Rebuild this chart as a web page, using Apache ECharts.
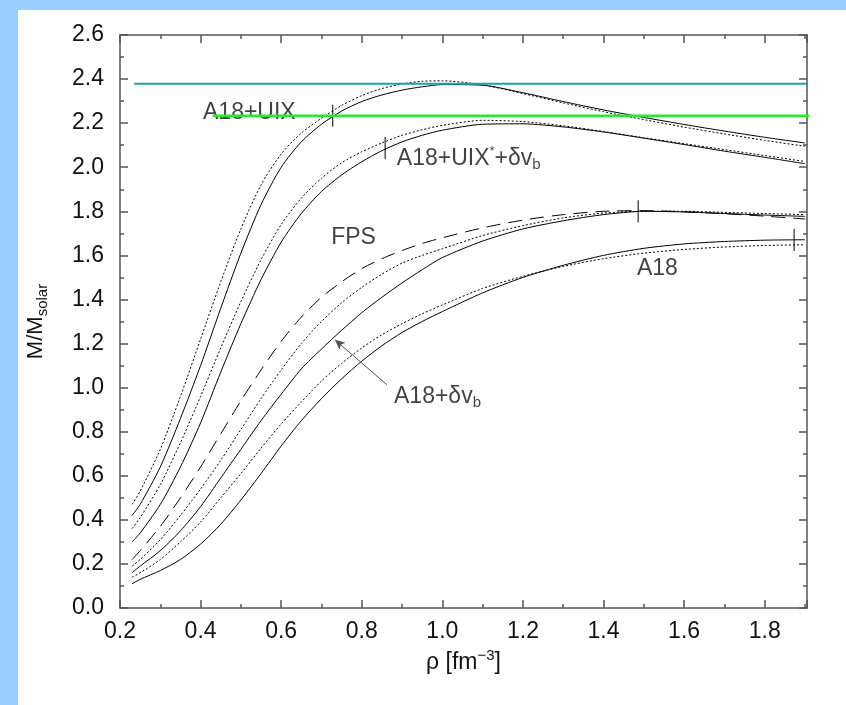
<!DOCTYPE html>
<html><head><meta charset="utf-8">
<script src="https://cdn.jsdelivr.net/npm/echarts@6/dist/echarts.min.js"></script>
<style>html,body{margin:0;padding:0;background:#fff}#c{width:846px;height:705px}</style>
</head><body><div id="c"></div>
<script>
// ---- data (rho in fm^-3, M in solar masses), all curves sampled on the same rho grid ----
const rho = [0.23,0.25,0.3,0.35,0.4,0.45,0.5,0.55,0.6,0.65,0.7,0.75,0.8,0.85,0.9,0.95,1.0,1.1,1.2,1.3,1.4,1.5,1.6,1.7,1.8,1.9];
const uixSolid  = [0.42,0.47,0.64,0.86,1.10,1.36,1.61,1.83,2.00,2.115,2.195,2.255,2.298,2.328,2.35,2.365,2.375,2.372,2.338,2.298,2.26,2.226,2.194,2.164,2.136,2.11];
const uixDot    = [0.47,0.53,0.72,0.96,1.22,1.48,1.72,1.92,2.06,2.155,2.222,2.28,2.325,2.357,2.378,2.39,2.392,2.374,2.334,2.292,2.252,2.216,2.182,2.151,2.122,2.095];
const uixsSolid = [0.30,0.34,0.47,0.64,0.84,1.07,1.29,1.49,1.66,1.79,1.89,1.965,2.025,2.075,2.115,2.145,2.168,2.195,2.197,2.183,2.16,2.132,2.103,2.073,2.045,2.016];
const uixsDot   = [0.36,0.41,0.56,0.75,0.96,1.18,1.39,1.58,1.74,1.86,1.95,2.02,2.07,2.11,2.145,2.17,2.19,2.213,2.207,2.188,2.162,2.134,2.107,2.08,2.053,2.026];
const fps       = [0.22,0.26,0.37,0.50,0.64,0.79,0.94,1.08,1.21,1.32,1.41,1.48,1.54,1.585,1.622,1.654,1.68,1.725,1.76,1.785,1.80,1.803,1.798,1.789,1.778,1.765];
const dvbDot    = [0.19,0.22,0.31,0.42,0.54,0.67,0.81,0.95,1.08,1.20,1.30,1.385,1.455,1.515,1.565,1.60,1.63,1.69,1.735,1.77,1.792,1.80,1.80,1.795,1.79,1.785];
const dvbSolid  = [0.16,0.19,0.26,0.35,0.46,0.59,0.72,0.85,0.97,1.085,1.175,1.26,1.34,1.41,1.475,1.535,1.59,1.665,1.72,1.757,1.785,1.80,1.797,1.79,1.783,1.777];
const a18Dot    = [0.14,0.16,0.22,0.30,0.39,0.50,0.61,0.725,0.835,0.935,1.03,1.11,1.18,1.24,1.29,1.335,1.375,1.45,1.505,1.55,1.585,1.61,1.627,1.638,1.645,1.648];
const a18Solid  = [0.11,0.13,0.17,0.22,0.29,0.38,0.49,0.61,0.735,0.85,0.95,1.04,1.12,1.19,1.25,1.30,1.345,1.43,1.50,1.555,1.60,1.632,1.652,1.663,1.669,1.671];

// horizontal reference lines
const hLineStartRho = [0.235, 0.43];
const hLineEndRho = [2.0, 2.0];
const hLineM = [2.379, 2.234];
// short vertical markers on curves
const markRho = [0.728, 0.858, 1.486, 1.873];
const markM = [2.234, 2.087, 1.80, 1.67];
const markHalf = 0.05;
// annotation labels (anchor in data coords: left edge, vertical middle)
const noteText = ['A18+UIX', 'A18+UIX{sup|*}+δv{sub|b}', 'FPS', 'A18', 'A18+δv{sub|b}'];
const noteRho = [0.406, 0.887, 0.724, 1.483, 0.88];
const noteM = [2.247, 2.04, 1.68, 1.54, 0.959];
// arrow from label to curve
const arrowFrom = [0.8625, 1.013];
const arrowTo = [0.7335, 1.217];
// axes
const xTicks = [0.2, 1.905, 0.2];   // min, max, interval
const yTicks = [0.0, 2.6, 0.2];

const FONT = '"Liberation Sans", Arial, Helvetica, sans-serif';
const zip = (r, m) => r.map((v, i) => [v, m[i]]);

function curve(m, type) {
  return {
    type: 'line', data: zip(rho, m), symbol: 'none', smooth: 0.25,
    lineStyle: { color: '#000', width: 1, type: type }, silent: true, z: 3
  };
}

const series = [
  curve(uixDot, [2, 2]),
  curve(uixSolid, 'solid'),
  curve(uixsDot, [2, 2]),
  curve(uixsSolid, 'solid'),
  curve(fps, [14, 8]),
  curve(dvbDot, [2, 2]),
  curve(dvbSolid, 'solid'),
  curve(a18Dot, [2, 2]),
  curve(a18Solid, 'solid')
];

const hColors = ['#1aa3aa', '#22ee22'];
const hWidths = [2, 2.5];
hLineM.forEach((m, i) => series.push({
  type: 'line', data: [[hLineStartRho[i], m], [hLineEndRho[i], m]], symbol: 'none', clip: false,
  lineStyle: { color: hColors[i], width: hWidths[i] }, silent: true, z: 5
}));

markRho.forEach((r, i) => series.push({
  type: 'line', data: [[r, markM[i] - markHalf], [r, markM[i] + markHalf]], symbol: 'none',
  lineStyle: { color: '#000', width: 1 }, silent: true, z: 4
}));

series.push({
  type: 'scatter', symbolSize: 0, silent: true, z: 4,
  data: noteText.map((t, i) => ({ value: [noteRho[i], noteM[i]], label: { formatter: t } })),
  label: {
    show: true, position: 'right', distance: 0, color: '#111', fontFamily: FONT, fontSize: 23,
    rich: {
      sup: { fontSize: 13, verticalAlign: 'top', padding: [0, 0, 14, 0], fontFamily: FONT, color: '#111' },
      sub: { fontSize: 15, verticalAlign: 'bottom', padding: [12, 0, 0, 0], fontFamily: FONT, color: '#111' }
    }
  },
  markLine: {
    silent: true, symbol: ['none', 'arrow'], symbolSize: [7, 10],
    lineStyle: { color: '#555', width: 1, type: 'solid' },
    label: { show: false },
    data: [[{ coord: arrowFrom }, { coord: arrowTo }]]
  }
});

const axisLineStyle = { color: '#555', width: 1.5 };
function xAx(pos, major) {
  return {
    type: 'value', position: pos, min: xTicks[0], max: xTicks[1], interval: major ? xTicks[2] : xTicks[2] / 2,
    axisLine: { show: major, lineStyle: axisLineStyle },
    axisTick: { show: true, inside: true, length: major ? 8 : 4, lineStyle: axisLineStyle },
    splitLine: { show: false },
    axisLabel: major && pos === 'bottom' ? {
      show: true, fontSize: 23, color: '#111', fontFamily: FONT, margin: 12,
      formatter: v => (Math.abs(Math.round(v / 0.2) * 0.2 - v) < 1e-6 ? v.toFixed(1) : '')
    } : { show: false },
    name: major && pos === 'bottom' ? 'ρ [fm{sup|−3}]' : '',
    nameLocation: 'middle', nameGap: 40,
    nameTextStyle: {
      fontSize: 23, color: '#111', fontFamily: FONT,
      rich: { sup: { fontSize: 15, padding: [0, 0, 14, 0], color: '#111', fontFamily: FONT } }
    }
  };
}
function yAx(pos) {
  return {
    type: 'value', position: pos, min: yTicks[0], max: yTicks[1], interval: yTicks[2],
    axisLine: { show: true, lineStyle: axisLineStyle },
    axisTick: { show: true, inside: true, length: 8, lineStyle: axisLineStyle },
    minorTick: { show: true, splitNumber: 2, length: 4, lineStyle: axisLineStyle },
    splitLine: { show: false },
    axisLabel: pos === 'left' ? {
      show: true, fontSize: 23, color: '#111', fontFamily: FONT, margin: 16,
      formatter: v => v.toFixed(1)
    } : { show: false },
    name: pos === 'left' ? 'M/M{sub|solar}' : '',
    nameLocation: 'middle', nameGap: 70, nameRotate: 90,
    nameTextStyle: {
      fontSize: 22, color: '#111', fontFamily: FONT,
      rich: { sub: { fontSize: 15, padding: [14, 0, 0, 0], color: '#111', fontFamily: FONT } }
    }
  };
}

const chart = echarts.init(document.getElementById('c'), null, { renderer: 'canvas' });
chart.setOption({
  animation: false,
  backgroundColor: '#fff',
  textStyle: { fontFamily: FONT },
  graphic: [
    { type: 'rect', left: 0, top: 0, z: -10, shape: { width: 846, height: 10 }, style: { fill: '#99ccff' } },
    { type: 'rect', left: 0, top: 0, z: -10, shape: { width: 18, height: 705 }, style: { fill: '#99ccff' } }
  ],
  grid: { left: 120, top: 35, right: 39, bottom: 97, containLabel: false },
  xAxis: [xAx('bottom', true), xAx('bottom', false), xAx('top', true), xAx('top', false)],
  yAxis: [yAx('left'), yAx('right')],
  series: series
});
</script></body></html>
